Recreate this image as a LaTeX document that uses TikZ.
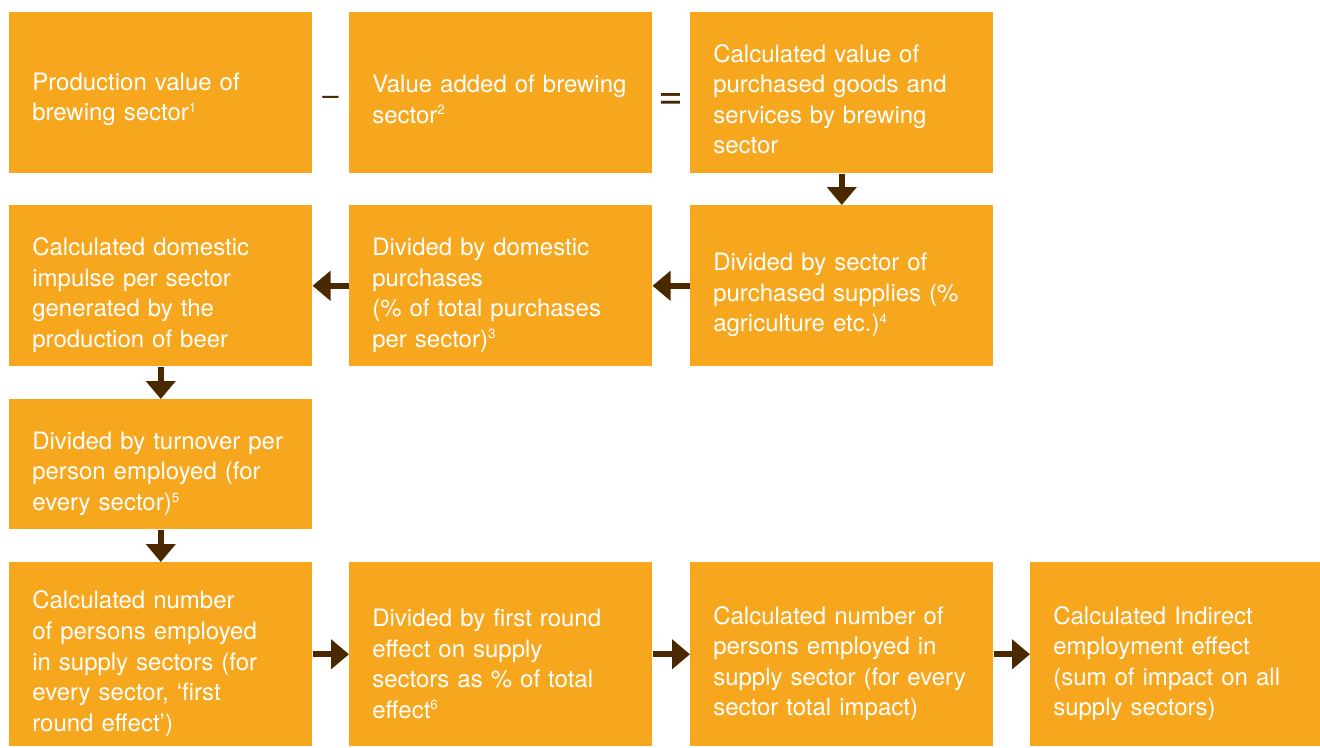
\documentclass[tikz,border=0pt]{standalone}
\usepackage{fontspec}
\setmainfont{TeX Gyre Heros}
\usetikzlibrary{arrows.meta}
\definecolor{beerorange}{HTML}{F6A71E}
\definecolor{maltbrown}{HTML}{4A2900}
\newcommand{\fnote}[1]{\textsuperscript{\fontsize{10}{10}\selectfont #1}}

\begin{document}
\begin{tikzpicture}[x=0.75pt, y=-0.75pt,
    box/.style={fill=beerorange, text=white, anchor=north west, align=left,
        inner xsep=17.25pt, inner ysep=0pt, text width=192.75pt,
        minimum height=120.75pt, font=\fontsize{18}{22.9}\selectfont,
        execute at begin node={\vskip 4.5pt}},
    topbox/.style={box, execute at begin node={\vskip -4.5pt}},
    lastbox/.style={box, text width=183pt},
    flow/.style={-{Triangle[width=21.75pt, length=13.5pt]}, maltbrown, line width=4.5pt},
    sign/.style={text=maltbrown, inner sep=0pt}]

    % 1. Page frame, in pixels of the reference
    \useasboundingbox (0,0) rectangle (1320,747);

    % 2. First row: production value - value added = purchases
    \node[topbox] (prod) at (9,12) {Production value of\\ brewing sector\fnote{1}};
    \node[topbox] (added) at (349,12) {Value added of brewing\\ sector\fnote{2}};
    \node[topbox] (purch) at (690,12) {Calculated value of\\ purchased goods and\\ services by brewing\\ sector};
    \node[sign, font=\fontsize{22}{22}\selectfont] (minus) at (330.5,101) {–};
    \node[sign, font=\fontsize{32}{32}\selectfont] (equals) at (671,101.5) {=};

    % 3. Second row, read from right to left
    \node[box] (supply) at (690,205) {Divided by sector of\\ purchased supplies (\%\\ agriculture etc.)\fnote{4}};
    \node[box] (domestic) at (349,205) {Divided by domestic\\ purchases\\ (\% of total purchases\\ per sector)\fnote{3}};
    \node[box] (impulse) at (9,205) {Calculated domestic\\ impulse per sector\\ generated by the\\ production of beer};

    % 4. Turnover step
    \node[box, minimum height=97.5pt] (turnover) at (9,399) {Divided by turnover per\\ person employed (for\\ every sector)\fnote{5}};

    % 5. Last row, left to right
    \node[box, minimum height=138pt] (firstround) at (9,562) {Calculated number\\ of persons employed\\ in supply sectors (for\\ every sector, ‘first\\ round effect’)};
    \node[box, minimum height=138pt] (share) at (349,562) {Divided by first round\\ effect on supply\\ sectors as \% of total\\ effect\fnote{6}};
    \node[box, minimum height=138pt] (total) at (690,562) {Calculated number of\\ persons employed in\\ supply sector (for every\\ sector total impact)};
    \node[lastbox, minimum height=138pt] (indirect) at (1030,562) {Calculated Indirect\\ employment effect\\ (sum of impact on all\\ supply sectors)};

    % 6. Arrows between the steps
    \draw[flow] (purch.south) -- (supply.north);
    \draw[flow] (supply.west) -- (domestic.east);
    \draw[flow] (domestic.west) -- (impulse.east);
    \draw[flow] (impulse.south) -- (turnover.north);
    \draw[flow] (turnover.south) -- (firstround.north);
    \draw[flow] (firstround.east) -- (share.west);
    \draw[flow] (share.east) -- (total.west);
    \draw[flow] (total.east) -- (indirect.west);

\end{tikzpicture}
\end{document}
